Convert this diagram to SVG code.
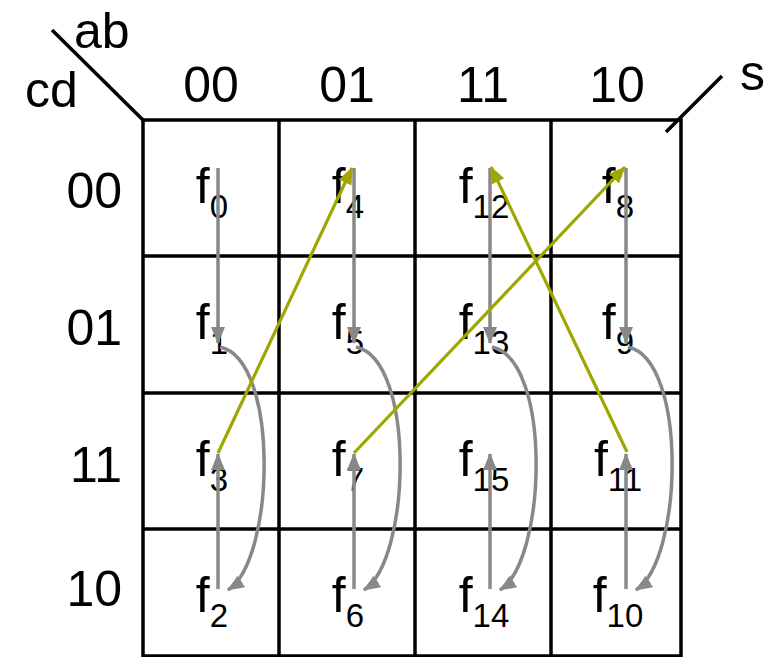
<svg xmlns="http://www.w3.org/2000/svg" width="771" height="657" viewBox="0 0 771 657">
<style>
.lbl{font-family:"Liberation Sans",Arial,sans-serif;font-size:50px;fill:#000}
.f{font-family:"Liberation Sans",Arial,sans-serif;font-size:50px;fill:#000;text-anchor:middle}
.sub{font-size:33px}
.grid{stroke:#000;stroke-width:3.5;fill:none}
.g{stroke:#888;stroke-width:3.5;fill:none}
.y{stroke:#a0a600;stroke-width:3.2;fill:none}
</style>
<defs>
<marker id="ag" viewBox="0 0 17 14" refX="16" refY="7" markerWidth="17" markerHeight="14" markerUnits="userSpaceOnUse" orient="auto"><path d="M0,0 L17,7 L0,14 z" fill="#888"/></marker>
<marker id="ay" viewBox="0 0 17 14" refX="16" refY="7" markerWidth="17" markerHeight="14" markerUnits="userSpaceOnUse" orient="auto"><path d="M0,0 L17,7 L0,14 z" fill="#a0a600"/></marker>
</defs>
<rect width="771" height="657" fill="#fff"/>
<g id="grid" class="grid">
<rect x="143" y="120" width="538" height="536"/>
<line x1="279" y1="120" x2="279" y2="656"/>
<line x1="415" y1="120" x2="415" y2="656"/>
<line x1="551" y1="120" x2="551" y2="656"/>
<line x1="143" y1="256" x2="681" y2="256"/>
<line x1="143" y1="393" x2="681" y2="393"/>
<line x1="143" y1="529" x2="681" y2="529"/>
<line x1="52" y1="30" x2="143" y2="120"/>
<line x1="722" y1="76" x2="666" y2="132"/>
</g>
<g id="axis-labels" class="lbl">
<text x="74" y="48">ab</text>
<text x="25" y="107">cd</text>
<text x="740" y="90">s</text>
<text x="211" y="102" text-anchor="middle">00</text>
<text x="347" y="102" text-anchor="middle">01</text>
<text x="483" y="102" text-anchor="middle">11</text>
<text x="617" y="102" text-anchor="middle">10</text>
<text x="122" y="208" text-anchor="end">00</text>
<text x="122" y="345" text-anchor="end">01</text>
<text x="122" y="482" text-anchor="end">11</text>
<text x="122" y="606" text-anchor="end">10</text>
</g>
<g id="f0"><text class="f" x="212" y="203">f<tspan class="sub" dy="15">0</tspan></text></g>
<g id="f4"><text class="f" x="348" y="203">f<tspan class="sub" dy="15">4</tspan></text></g>
<g id="f12"><text class="f" x="484" y="203">f<tspan class="sub" dy="15">12</tspan></text></g>
<g id="f8"><text class="f" x="618" y="203">f<tspan class="sub" dy="15">8</tspan></text></g>
<g id="f1"><text class="f" x="212" y="339">f<tspan class="sub" dy="15">1</tspan></text></g>
<g id="f5"><text class="f" x="348" y="339">f<tspan class="sub" dy="15">5</tspan></text></g>
<g id="f13"><text class="f" x="484" y="339">f<tspan class="sub" dy="15">13</tspan></text></g>
<g id="f9"><text class="f" x="618" y="339">f<tspan class="sub" dy="15">9</tspan></text></g>
<g id="f3"><text class="f" x="212" y="476">f<tspan class="sub" dy="15">3</tspan></text></g>
<g id="f7"><text class="f" x="348" y="476">f<tspan class="sub" dy="15">7</tspan></text></g>
<g id="f15"><text class="f" x="484" y="476">f<tspan class="sub" dy="15">15</tspan></text></g>
<g id="f11"><text class="f" x="618" y="476">f<tspan class="sub" dy="15">11</tspan></text></g>
<g id="f2"><text class="f" x="212" y="612">f<tspan class="sub" dy="15">2</tspan></text></g>
<g id="f6"><text class="f" x="348" y="612">f<tspan class="sub" dy="15">6</tspan></text></g>
<g id="f14"><text class="f" x="484" y="612">f<tspan class="sub" dy="15">14</tspan></text></g>
<g id="f10"><text class="f" x="618" y="612">f<tspan class="sub" dy="15">10</tspan></text></g>
<g id="connectors">
<path class="g" marker-end="url(#ag)" d="M218,168 V343"/>
<path class="g" marker-end="url(#ag)" d="M354,168 V343"/>
<path class="g" marker-end="url(#ag)" d="M490,168 V343"/>
<path class="g" marker-end="url(#ag)" d="M626,168 V343"/>
<path class="g" marker-end="url(#ag)" d="M218,589 V454"/>
<path class="g" marker-end="url(#ag)" d="M354,589 V454"/>
<path class="g" marker-end="url(#ag)" d="M490,589 V454"/>
<path class="g" marker-end="url(#ag)" d="M626,589 V454"/>
<path class="g" marker-end="url(#ag)" d="M220,347 C280,360 275,560 228,590"/>
<path class="g" marker-end="url(#ag)" d="M356,347 C416,360 411,560 364,590"/>
<path class="g" marker-end="url(#ag)" d="M492,347 C552,360 547,560 500,590"/>
<path class="g" marker-end="url(#ag)" d="M628,347 C688,360 683,560 636,590"/>
<path class="y" marker-end="url(#ay)" d="M218,453 L352,168"/>
<path class="y" marker-end="url(#ay)" d="M354,453 L625,167"/>
<path class="y" marker-end="url(#ay)" d="M627,452 L491,167"/>
</g>
</svg>
